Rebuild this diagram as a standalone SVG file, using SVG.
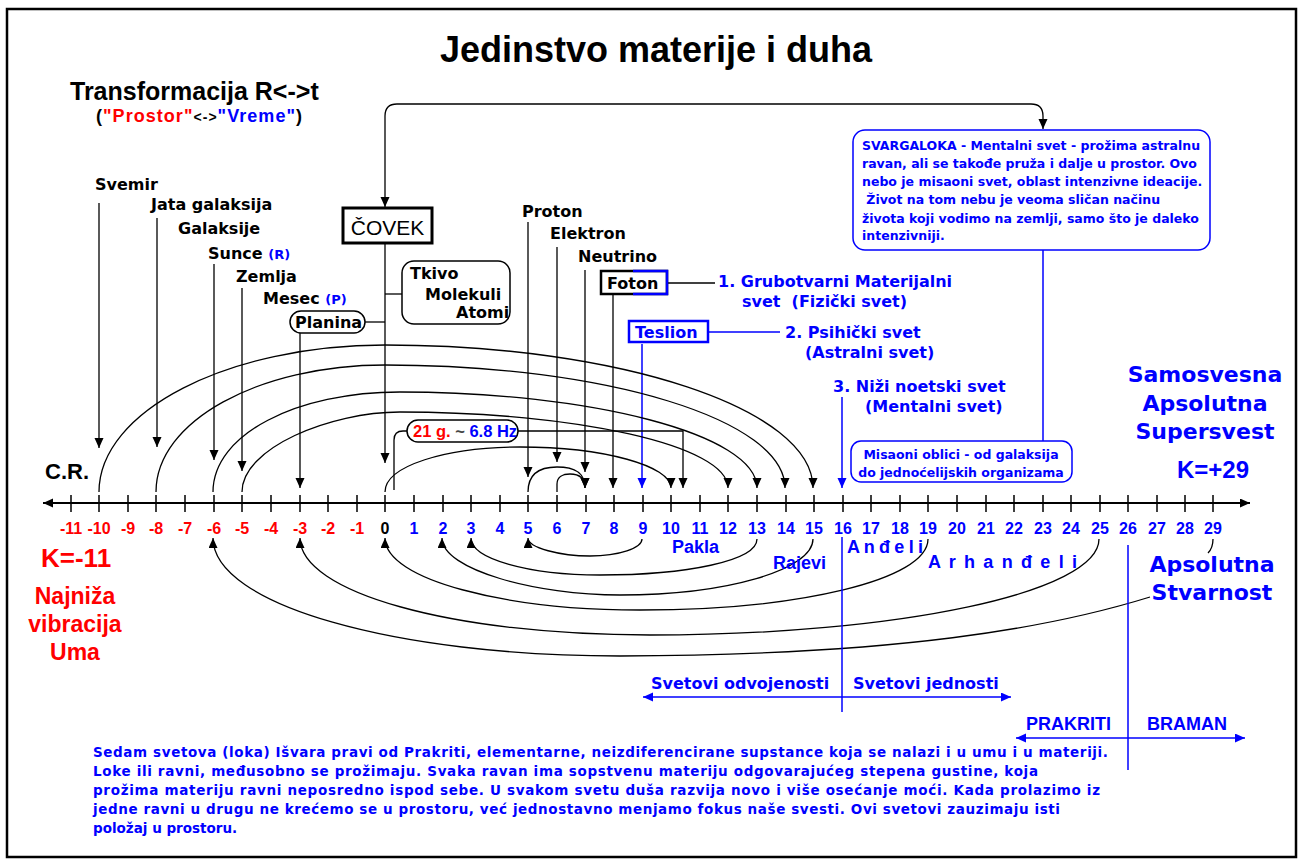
<svg xmlns="http://www.w3.org/2000/svg" width="1302" height="862" viewBox="0 0 1302 862">
<style>
.lb{font-family:"DejaVu Sans",sans-serif;font-weight:bold;font-size:16px;fill:#000}
.bl{fill:#0000ff}
.rd{fill:#ff0000}
.ar{font-family:"Liberation Sans",Arial,sans-serif;font-weight:bold}
.num{font-family:"Liberation Sans",Arial,sans-serif;font-weight:bold;font-size:16px;text-anchor:middle}
.sm{font-family:"DejaVu Sans",sans-serif;font-weight:bold;font-size:12.5px;fill:#0000ff}
.par{font-family:"DejaVu Sans",sans-serif;font-weight:bold;font-size:13.5px;fill:#0000ff}
.big{font-family:"DejaVu Sans",sans-serif;font-weight:bold;font-size:22px;fill:#0000ff;text-anchor:middle}
.ln{fill:none;stroke:#000;stroke-width:1.3}
.lnb{fill:none;stroke:#0000ff;stroke-width:1.5}
.box{fill:#fff;stroke:#000;stroke-width:1.5}
</style>
<defs>
<marker id="ah" markerUnits="userSpaceOnUse" markerWidth="12" markerHeight="10" refX="10" refY="4.5" orient="auto"><path d="M0,0 L10,4.5 L0,9 z" fill="#000"/></marker>
<marker id="ahs" markerUnits="userSpaceOnUse" markerWidth="12" markerHeight="10" refX="10" refY="4.5" orient="auto-start-reverse"><path d="M0,0 L10,4.5 L0,9 z" fill="#000"/></marker>
<marker id="ahb" markerUnits="userSpaceOnUse" markerWidth="12" markerHeight="10" refX="10" refY="4.5" orient="auto-start-reverse"><path d="M0,0 L10,4.5 L0,9 z" fill="#0000ff"/></marker>
</defs>
<rect x="0" y="0" width="1302" height="862" fill="#fff"/>
<rect x="7" y="9" width="1289" height="848" fill="none" stroke="#000" stroke-width="2.5"/>

<g id="title">
<text x="656" y="62" class="ar" font-size="36" text-anchor="middle">Jedinstvo materije i duha</text>
<text x="70" y="100" class="ar" font-size="25">Transformacija R&lt;-&gt;t</text>
<text x="96" y="122" class="ar" font-size="18" textLength="206">(<tspan class="rd">"Prostor"</tspan><tspan font-size="14">&lt;-&gt;</tspan><tspan class="bl">"Vreme"</tspan>)</text>
</g>

<g id="connectors">
<path class="ln" d="M385,207 V116 Q385,104 397,104 H1031 Q1043,104 1043,116 V129" marker-start="url(#ahs)" marker-end="url(#ah)"/>
<path class="ln" d="M99,203 V448" marker-end="url(#ah)"/>
<path class="ln" d="M157,218 V447" marker-end="url(#ah)"/>
<path class="ln" d="M214,264 V460" marker-end="url(#ah)"/>
<path class="ln" d="M242,288 V471" marker-end="url(#ah)"/>
<path class="ln" d="M300,333 V488" marker-end="url(#ah)"/>
<path class="ln" d="M385,243 V463" marker-end="url(#ah)"/>
<path class="ln" d="M385,294 H402"/>
<path class="ln" d="M365,322 H385"/>
<path class="ln" d="M528,222 V477" marker-end="url(#ah)"/>
<path class="ln" d="M557,247 V462" marker-end="url(#ah)"/>
<path class="ln" d="M585,270 V472" marker-end="url(#ah)"/>
<path class="ln" d="M613,294 V488" marker-end="url(#ah)"/>
<path class="ln" d="M667,283 H715"/>
<path class="lnb" d="M708,332 H780"/>
<path class="lnb" d="M642,344 V488" marker-end="url(#ahb)"/>
<path class="lnb" d="M842,397 V488" marker-end="url(#ahb)"/>
<path class="lnb" d="M1043,250 V441"/>
<path class="ln" d="M99,492 C99,411 228,345 385,345 C620,345 813,409 813,488" marker-end="url(#ah)"/>
<path class="ln" d="M156,492 C156,421 259,365 385,365 C607,365 785,420 785,488" marker-end="url(#ah)"/>
<path class="ln" d="M213,492 C213,434 297,392 400,392 C589,392 757,434 757,488" marker-end="url(#ah)"/>
<path class="ln" d="M242,492 C242,448 330,412 400,412 C574,412 728,445 728,488" marker-end="url(#ah)"/>
<path class="ln" d="M385,492 C385,466 446,447 520,447 C604,447 671,466 671,488" marker-end="url(#ah)"/>
<path class="ln" d="M528,492 C528,474 540,467 557,467 C574,467 585,472 585,488" marker-end="url(#ah)"/>
<path class="ln" d="M557,492 V484 C557,477 563,474 570,474 C579,474 585,478 585,488" marker-end="url(#ah)"/>
<path class="ln" d="M394,490 V440 Q394,431 403,431 H407"/>
<path class="ln" d="M518,431 H683 V488" marker-end="url(#ah)"/>
<path class="ln" d="M642,539 C642,548 619,556 590,556 C561,556 528,548 528,538" marker-end="url(#ah)"/>
<path class="ln" d="M757,539 C757,561 686,575 600,575 C529,575 471,559 471,538" marker-end="url(#ah)"/>
<path class="ln" d="M813,539 C813,570 726,595 620,595 C537,595 442,570 442,538" marker-end="url(#ah)"/>
<path class="ln" d="M928,539 C928,580 798,610 640,610 C506,610 385,580 385,538" marker-end="url(#ah)"/>
<path class="ln" d="M1099,539 C1099,592 900,635 650,635 C450,635 300,592 300,538" marker-end="url(#ah)"/>
<path class="ln" d="M1213,539 C1213,545 1211,550 1208,553"/>
<path class="ln" d="M1150,597 C1050,628 900,655 620,656 C396,656 213,605 213,538" marker-end="url(#ah)"/>
<path class="lnb" d="M842,537 V712"/>
<path class="lnb" d="M1128,545 V770"/>
<path class="lnb" d="M643,697 H1011" marker-start="url(#ahb)" marker-end="url(#ahb)"/>
<path class="lnb" d="M1016,738 H1245" marker-start="url(#ahb)" marker-end="url(#ahb)"/>
</g>

<g id="axis">
<path d="M43,503 H1250" stroke="#000" stroke-width="2" fill="none" marker-start="url(#ahs)" marker-end="url(#ah)"/>
<path stroke="#000" stroke-width="1.5" d="M71,495V512M99,495V512M128,495V512M156,495V512M185,495V512M214,495V512M242,495V512M271,495V512M300,495V512M328,495V512M357,495V512M385,495V512M414,495V512M443,495V512M471,495V512M500,495V512M528,495V512M557,495V512M586,495V512M614,495V512M643,495V512M671,495V512M700,495V512M728,495V512M757,495V512M786,495V512M814,495V512M843,495V512M871,495V512M900,495V512M928,495V512M957,495V512M986,495V512M1014,495V512M1043,495V512M1071,495V512M1100,495V512M1128,495V512M1157,495V512M1185,495V512M1213,495V512"/>
<g class="num">
<text x="71" y="534" class="rd">-11</text><text x="99" y="534" class="rd">-10</text><text x="128" y="534" class="rd">-9</text><text x="156" y="534" class="rd">-8</text><text x="185" y="534" class="rd">-7</text><text x="214" y="534" class="rd">-6</text><text x="242" y="534" class="rd">-5</text><text x="271" y="534" class="rd">-4</text><text x="300" y="534" class="rd">-3</text><text x="328" y="534" class="rd">-2</text><text x="357" y="534" class="rd">-1</text>
<text x="385" y="534">0</text>
<text x="414" y="534" class="bl">1</text><text x="443" y="534" class="bl">2</text><text x="471" y="534" class="bl">3</text><text x="500" y="534" class="bl">4</text><text x="528" y="534" class="bl">5</text><text x="557" y="534" class="bl">6</text><text x="586" y="534" class="bl">7</text><text x="614" y="534" class="bl">8</text><text x="643" y="534" class="bl">9</text><text x="671" y="534" class="bl">10</text><text x="700" y="534" class="bl">11</text><text x="728" y="534" class="bl">12</text><text x="757" y="534" class="bl">13</text><text x="786" y="534" class="bl">14</text><text x="814" y="534" class="bl">15</text><text x="843" y="534" class="bl">16</text><text x="871" y="534" class="bl">17</text><text x="900" y="534" class="bl">18</text><text x="928" y="534" class="bl">19</text><text x="957" y="534" class="bl">20</text><text x="986" y="534" class="bl">21</text><text x="1014" y="534" class="bl">22</text><text x="1043" y="534" class="bl">23</text><text x="1071" y="534" class="bl">24</text><text x="1100" y="534" class="bl">25</text><text x="1128" y="534" class="bl">26</text><text x="1157" y="534" class="bl">27</text><text x="1185" y="534" class="bl">28</text><text x="1213" y="534" class="bl">29</text>
</g>
</g>

<g id="left-labels">
<text x="95" y="190" class="lb">Svemir</text>
<text x="151" y="210" class="lb">Jata galaksija</text>
<text x="178" y="234" class="lb">Galaksije</text>
<text x="208" y="259" class="lb">Sunce <tspan class="bl" font-size="13">(R)</tspan></text>
<text x="236" y="282" class="lb">Zemlja</text>
<text x="263" y="304" class="lb">Mesec <tspan class="bl" font-size="13">(P)</tspan></text>
<text x="45" y="479" class="ar" font-size="22">C.R.</text>
</g>
<g id="node-planina">
<rect x="290" y="311" width="75" height="22" rx="11" class="box"/>
<text x="295" y="328" class="lb">Planina</text>
</g>
<g id="node-covek">
<rect x="343" y="208" width="89" height="35" fill="#fff" stroke="#000" stroke-width="3"/>
<text x="387.5" y="235" font-family="Liberation Sans, Arial, sans-serif" font-size="21" text-anchor="middle">ČOVEK</text>
</g>
<g id="node-tkivo">
<rect x="402" y="261" width="108" height="63" rx="12" class="box"/>
<text x="410" y="279" class="lb">Tkivo</text>
<text x="425" y="300" class="lb">Molekuli</text>
<text x="456" y="318" class="lb">Atomi</text>
</g>
<g id="node-particles">
<text x="522" y="217" class="lb">Proton</text>
<text x="550" y="239" class="lb">Elektron</text>
<text x="578" y="262" class="lb">Neutrino</text>
</g>
<g id="node-foton">
<rect x="601" y="271" width="66" height="23" fill="#fff" stroke="#000" stroke-width="2.5"/>
<path d="M633,271 H667 V294 H633" fill="none" stroke="#0000ff" stroke-width="2.5"/>
<text x="607" y="289" class="lb">Foton</text>
</g>
<g id="node-teslion">
<rect x="629" y="321" width="79" height="21" fill="#fff" stroke="#0000ff" stroke-width="2.5"/>
<text x="635" y="338" class="lb bl">Teslion</text>
</g>
<g id="node-hz">
<rect x="407" y="420" width="111" height="22" rx="11" class="box"/>
<text x="413" y="437" class="ar" font-size="16.5"><tspan class="rd">21 g.</tspan><tspan fill="#444"> ~ </tspan><tspan class="bl">6.8 Hz</tspan></text>
</g>
<g id="worlds">
<text x="718" y="287" class="lb bl">1. Grubotvarni Materijalni</text>
<text x="742" y="307" class="lb bl" xml:space="preserve">svet  (Fizički svet)</text>
<text x="785" y="338" class="lb bl">2. Psihički svet</text>
<text x="805" y="358" class="lb bl">(Astralni svet)</text>
<text x="833" y="392" class="lb bl">3. Niži noetski svet</text>
<text x="865" y="412" class="lb bl">(Mentalni svet)</text>
</g>
<g id="node-svargaloka">
<rect x="853" y="130" width="357" height="120" rx="12" fill="#fff" stroke="#0000ff" stroke-width="1.5"/>
<text x="862" y="150" class="sm">SVARGALOKA - Mentalni svet - prožima astralnu</text>
<text x="862" y="168" class="sm">ravan, ali se takođe pruža i dalje u prostor. Ovo</text>
<text x="862" y="186" class="sm">nebo je misaoni svet, oblast intenzivne ideacije.</text>
<text x="862" y="204" class="sm" xml:space="preserve"> Život na tom nebu je veoma sličan načinu</text>
<text x="862" y="223" class="sm">života koji vodimo na zemlji, samo što je daleko</text>
<text x="862" y="240" class="sm">intenzivniji.</text>
</g>
<g id="node-misaoni">
<rect x="851" y="441" width="221" height="41" rx="10" fill="#fff" stroke="#0000ff" stroke-width="1.5"/>
<text x="961" y="459" class="sm" text-anchor="middle">Misaoni oblici - od galaksija</text>
<text x="961" y="477" class="sm" text-anchor="middle">do jednoćelijskih organizama</text>
</g>
<g id="right-labels">
<text x="1205" y="382" class="big">Samosvesna</text>
<text x="1205" y="411" class="big">Apsolutna</text>
<text x="1205" y="439" class="big">Supersvest</text>
<text x="1213" y="478" class="ar bl" font-size="24" text-anchor="middle">K=+29</text>
<text x="1212" y="572" class="big">Apsolutna</text>
<text x="1212" y="600" class="big">Stvarnost</text>
</g>
<g id="left-bottom">
<text x="41" y="567" class="ar rd" font-size="26">K=-11</text>
<text x="75" y="604" class="ar rd" font-size="23" text-anchor="middle">Najniža</text>
<text x="75" y="632" class="ar rd" font-size="23" text-anchor="middle">vibracija</text>
<text x="75" y="660" class="ar rd" font-size="23" text-anchor="middle">Uma</text>
</g>
<g id="realms">
<text x="672" y="553" class="ar bl" font-size="18">Pakla</text>
<text x="773" y="569" class="ar bl" font-size="18">Rajevi</text>
<text x="847" y="553" class="ar bl" font-size="18" textLength="76">A n đ e l i</text>
<text x="928" y="568" class="ar bl" font-size="18" textLength="149">A r h a n đ e l i</text>
</g>
<g id="divisions">
<text x="651" y="689" class="lb bl" font-size="17">Svetovi odvojenosti</text>
<text x="853" y="689" class="lb bl" font-size="17">Svetovi jednosti</text>
<text x="1026" y="730" class="ar bl" font-size="18">PRAKRITI</text>
<text x="1147" y="730" class="ar bl" font-size="18">BRAMAN</text>
</g>
<g id="paragraph">
<text x="93" y="757" class="par" textLength="1015">Sedam svetova (loka) Išvara pravi od Prakriti, elementarne, neizdiferencirane supstance koja se nalazi i u umu i u materiji.</text>
<text x="93" y="776" class="par" textLength="945">Loke ili ravni, međusobno se prožimaju. Svaka ravan ima sopstvenu materiju odgovarajućeg stepena gustine, koja</text>
<text x="93" y="795" class="par" textLength="1007">prožima materiju ravni neposredno ispod sebe. U svakom svetu duša razvija novo i više osećanje moći. Kada prolazimo iz</text>
<text x="93" y="814" class="par" textLength="967">jedne ravni u drugu ne krećemo se u prostoru, već jednostavno menjamo fokus naše svesti. Ovi svetovi zauzimaju isti</text>
<text x="93" y="833" class="par">položaj u prostoru.</text>
</g>
</svg>
